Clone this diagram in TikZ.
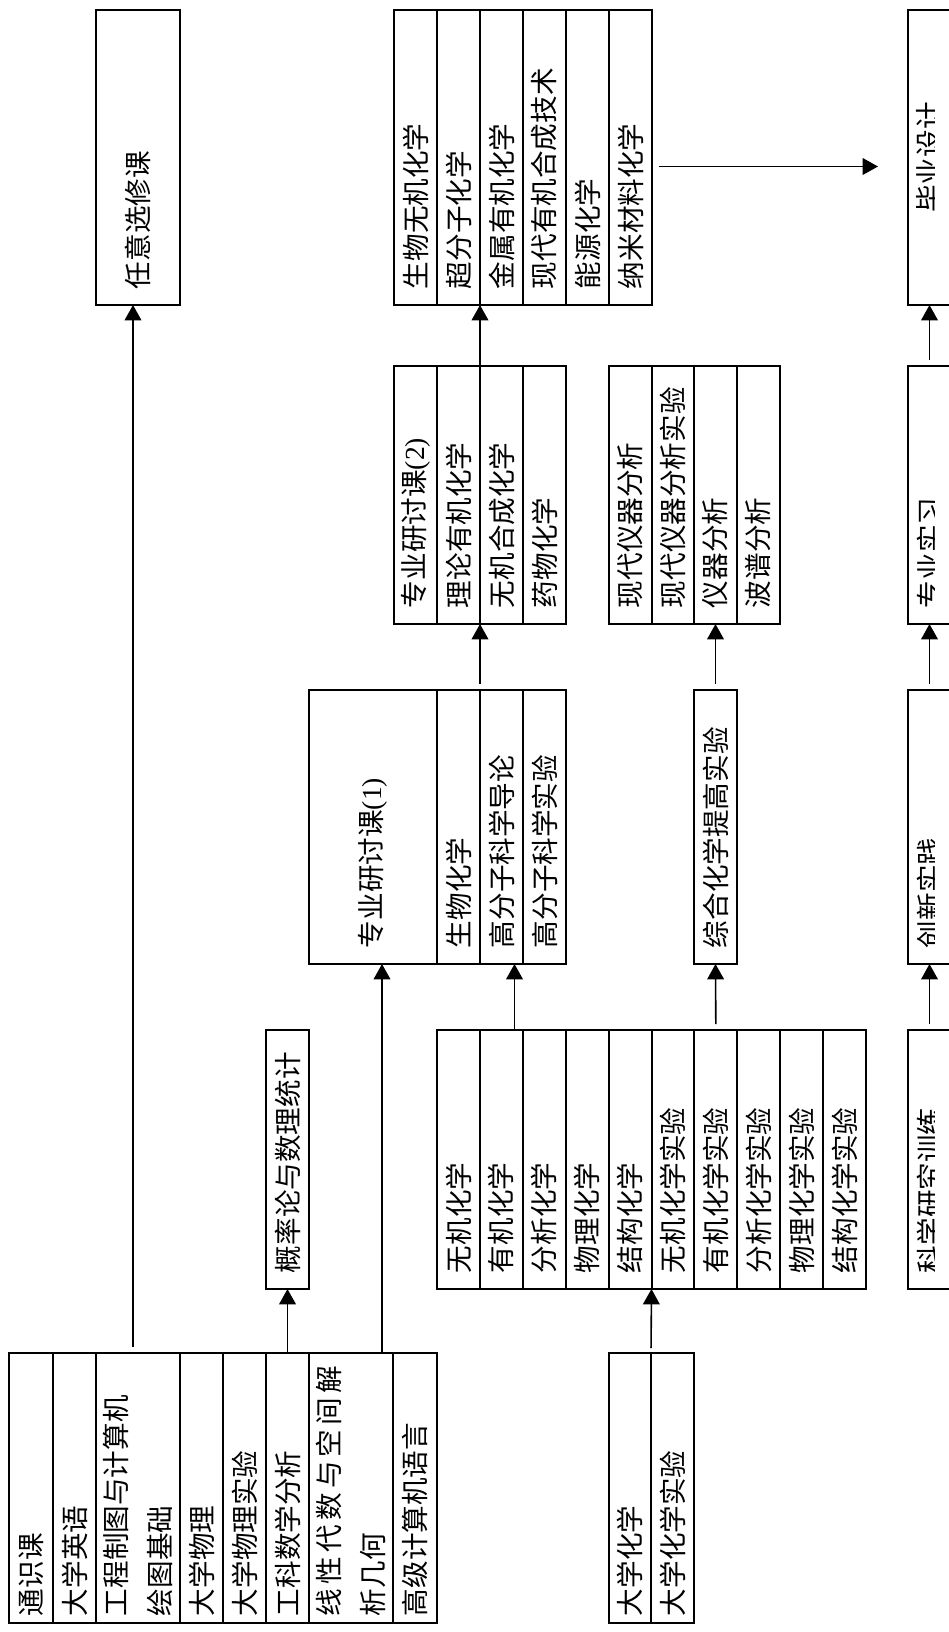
\documentclass[tikz,border=0pt]{standalone}
\usepackage{fontspec}
\setmainfont{Noto Sans CJK SC}
\newfontfamily\latf{Liberation Serif}
\usetikzlibrary{arrows.meta,calc}
\newcommand\vt[2]{\rotatebox{90}{\parbox{#1}{\raggedright #2}}}
\newcommand\vc[2]{\rotatebox{90}{\parbox{#1}{\centering #2}}}
\newcommand\LA{197.25pt}
\newcommand\LB{169.5pt}
\newcommand\LC{181.5pt}
\newcommand\LD{170.25pt}
\newcommand\LE{192pt}
\begin{document}
\begin{tikzpicture}[x=0.75pt,y=-0.75pt,
  cell/.style={draw, line width=1.5pt, inner sep=0pt, outer sep=0pt, anchor=north west,
    font=\fontsize{20.7}{33}\selectfont},
  cw/.style={minimum width=#1*0.75pt},
  rA/.style={minimum height=221.25pt},
  rB/.style={minimum height=193.5pt},
  rC/.style={minimum height=205.5pt},
  rD/.style={minimum height=194.25pt},
  rE/.style={minimum height=202.5pt},
  arr/.style={line width=1.2pt, -{Triangle[width=12.5pt,length=11.5pt]}},
  edge/.style={line width=1.5pt}]
\useasboundingbox (0,0) rectangle (949,1632);

% Row E (bottom)
\node[cell,rE,cw=44] (e1) at (9,1353) {\vt{\LE}{通识课}};
\node[cell,rE,cw=43] (e2) at (53,1353) {\vt{\LE}{大学英语}};
\node[cell,rE,cw=84] (e3) at (96,1353) {\vt{\LE}{工程制图与计算机\\绘图基础}};
\node[cell,rE,cw=43] (e4) at (180,1353) {\vt{\LE}{大学物理}};
\node[cell,rE,cw=43] (e5) at (223,1353) {\vt{\LE}{大学物理实验}};
\node[cell,rE,cw=43] (e6) at (266,1353) {\vt{\LE}{工科数学分析}};
\node[cell,rE,cw=84] (e7) at (309,1353) {\vt{\LE}{\leavevmode\hbox to 187.5pt{线\hfill 性\hfill 代\hfill 数\hfill 与\hfill 空\hfill 间\hfill 解}\\析几何}};
\node[cell,rE,cw=44] (e8) at (393,1353) {\vt{\LE}{高级计算机语言}};
\node[cell,rE,cw=42] (f1) at (609,1353) {\vt{\LE}{大学化学}};
\node[cell,rE,cw=43] (f2) at (651,1353) {\vt{\LE}{大学化学实验}};

% Row D
\node[cell,rD,cw=43] (d0) at (266,1030) {\vt{\LD}{概率论与数理统计}};
\node[cell,rD,cw=42.9] (c1) at (437,1030) {\vt{\LD}{无机化学}};
\node[cell,rD,cw=42.9] (c2) at (479.9,1030) {\vt{\LD}{有机化学}};
\node[cell,rD,cw=42.9] (c3) at (522.8,1030) {\vt{\LD}{分析化学}};
\node[cell,rD,cw=42.9] (c4) at (565.7,1030) {\vt{\LD}{物理化学}};
\node[cell,rD,cw=42.9] (c5) at (608.6,1030) {\vt{\LD}{结构化学}};
\node[cell,rD,cw=42.9] (c6) at (651.5,1030) {\vt{\LD}{无机化学实验}};
\node[cell,rD,cw=42.9] (c7) at (694.4,1030) {\vt{\LD}{有机化学实验}};
\node[cell,rD,cw=42.9] (c8) at (737.3,1030) {\vt{\LD}{分析化学实验}};
\node[cell,rD,cw=42.9] (c9) at (780.2,1030) {\vt{\LD}{物理化学实验}};
\node[cell,rD,cw=42.9] (c10) at (823.1,1030) {\vt{\LD}{结构化学实验}};

% Row C
\node[cell,rC,cw=128] (p1) at (309,690) {\vt{\LC}{专业研讨课{\latf (1)}}};
\node[cell,rC,cw=43] (p2) at (437,690) {\vt{\LC}{生物化学}};
\node[cell,rC,cw=43] (p3) at (480,690) {\vt{\LC}{高分子科学导论}};
\node[cell,rC,cw=43] (p4) at (523,690) {\vt{\LC}{高分子科学实验}};
\node[cell,rC,cw=43] (zh) at (694,690) {\vt{\LC}{综合化学提高实验}};

% Row B
\node[cell,rB,cw=43] (q1) at (394,366) {\vt{\LB}{专业研讨课{\latf (2)}}};
\node[cell,rB,cw=43] (q2) at (437,366) {\vt{\LB}{理论有机化学}};
\node[cell,rB,cw=43] (q3) at (480,366) {\vt{\LB}{无机合成化学}};
\node[cell,rB,cw=43] (q4) at (523,366) {\vt{\LB}{药物化学}};
\node[cell,rB,cw=43] (m1) at (609,366) {\vt{\LB}{现代仪器分析}};
\node[cell,rB,cw=42] (m2) at (652,366) {\vt{\LB}{现代仪器分析实验}};
\node[cell,rB,cw=43] (m3) at (694,366) {\vt{\LB}{仪器分析}};
\node[cell,rB,cw=43] (m4) at (737,366) {\vt{\LB}{波谱分析}};

% Row A (top)
\node[cell,rA,cw=84] (rx) at (96,10) {\vt{\LA}{任意选修课}};
\node[cell,rA,cw=43] (s1) at (394,10) {\vt{\LA}{生物无机化学}};
\node[cell,rA,cw=43] (s2) at (437,10) {\vt{\LA}{超分子化学}};
\node[cell,rA,cw=43] (s3) at (480,10) {\vt{\LA}{金属有机化学}};
\node[cell,rA,cw=43] (s4) at (523,10) {\vt{\LA}{现代有机合成技术}};
\node[cell,rA,cw=43] (s5) at (566,10) {\vt{\LA}{能源化学}};
\node[cell,rA,cw=43] (s6) at (609,10) {\vt{\LA}{纳米材料化学}};

% Right column (cut at the right edge)
\begin{scope}
\clip (0,0) rectangle (934,1632);
\node[cell,rA,cw=43] (r1) at (908,10) {\vc{\LA}{毕业设计}};
\node[cell,rB,cw=43] (r2) at (908,366) {\vt{\LB}{专业实习}};
\node[cell,rC,cw=43] (r3) at (908,690) {\vt{\LC}{创新实践}};
\node[cell,rD,cw=43] (r4) at (908,1030) {\vt{\LD}{科学研究训练}};
\end{scope}
\foreach \n in {r1,r2,r3,r4} \draw[edge] (\n.north west) rectangle (\n.south east);

% Connectors
\draw[arr, shorten <=4.5pt] ($(e3.north)+(-5,0)$) -- ($(rx.south)+(-5,0)$);
\draw[arr] (e6.north) -- (d0.south);
\coordinate (a3) at ($(p1.south)+(9,0)$);
\draw[arr] (a3 |- e7.north) -- (a3);
\draw[arr, shorten <=3.75pt] (f1.north east) -- (c5.south east);
\coordinate (a5) at ($(p3.south)+(13,0)$);
\draw[arr] (a5 |- c2.north) -- (a5);
\draw[arr, shorten <=4.5pt] (c7.north) -- (zh.south);
\draw[arr, shorten <=4.5pt] (p3.north west) -- (q3.south west);
\draw[arr, shorten <=4.5pt] (zh.north) -- (m3.south);
\draw[arr] (q3.north west) -- (s3.south west);
\draw[arr, shorten <=5pt, shorten >=22.5pt] ($(s6.east)+(0,9)$) -- ($(r1.west)+(0,9)$);
\draw[arr, shorten <=4.5pt] (r4.north) -- (r3.south);
\draw[arr, shorten <=4.5pt] (r3.north) -- (r2.south);
\draw[arr, shorten <=4.5pt] (r2.north) -- (r1.south);
\end{tikzpicture}
\end{document}
